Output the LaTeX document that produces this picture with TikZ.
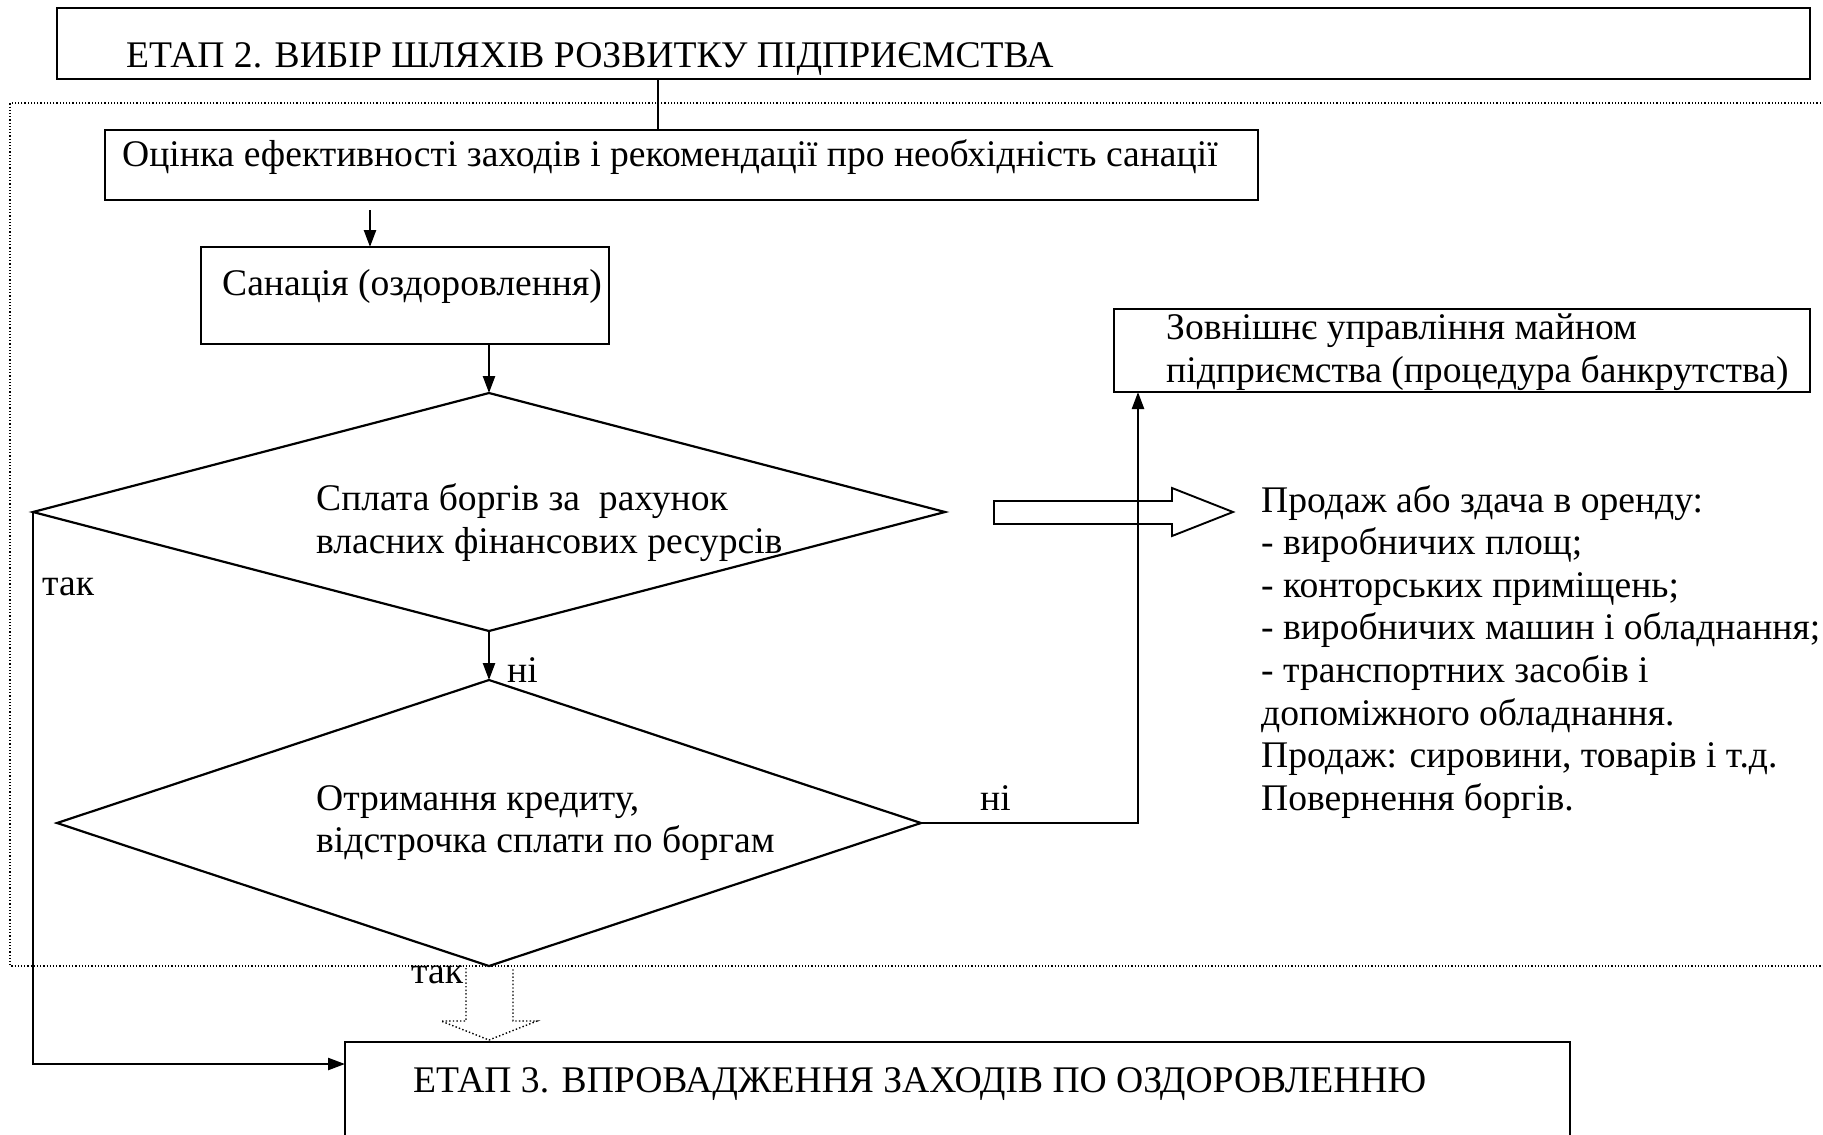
\documentclass[tikz,border=0pt]{standalone}
\usepackage{fontspec}
\setmainfont{Liberation Serif}
\usetikzlibrary{arrows.meta,shapes.geometric,calc}
\begin{document}
\begin{tikzpicture}[x=1pt,y=-1pt,
  box/.style={draw,line width=2.4pt,rectangle,inner sep=0pt,outer sep=0pt,anchor=north west},
  decision/.style={draw,line width=2.2pt,diamond,inner sep=0pt,outer sep=0pt},
  txt/.style={anchor=base west,inner sep=0pt,font=\fontsize{37.6}{44}\selectfont},
  conn/.style={line width=2.4pt},
  arr/.style={line width=2.4pt,-{Triangle[length=17pt,width=12pt]}},
  blk/.style={line width=1.9pt,line join=miter},
  dotblk/.style={line width=1.4pt,dash pattern=on 1.4pt off 2.2pt},
  frame/.style={line width=1.2pt,dash pattern=on 1.2pt off 2pt}]
\useasboundingbox (0,0) rectangle (1823,1135);
\clip (0,0) rectangle (1823,1135);

% dotted frame around stage 2
\draw[frame] (1840,103) -- (10,103) -- (10,966) -- (1840,966);

% boxes
\node[box,minimum width=1753pt,minimum height=71pt] (t2) at (57,8) {};
\node[box,minimum width=1153pt,minimum height=70pt] (ev) at (105,130) {};
\node[box,minimum width=408pt,minimum height=97pt] (san) at (201,247) {};
\node[box,minimum width=696pt,minimum height=83pt] (zv) at (1114,309) {};
\node[box,minimum width=1225pt,minimum height=140pt] (e3) at (345,1042) {};

% decisions
\node[decision,minimum width=912pt,minimum height=238pt] (q1) at (489,512) {};
\node[decision,minimum width=864pt,minimum height=286pt] (q2) at (489,823) {};

% texts
\node[txt] (t2t) at (126,67) {ЕТАП 2. ВИБІР ШЛЯХІВ РОЗВИТКУ ПІДПРИЄМСТВА};
\node[txt] (evt) at (122,166) {Оцінка ефективності заходів і рекомендації про необхідність санації};
\node[txt] (sant) at (222,295) {Санація (оздоровлення)};
\node[txt] (q1a) at (316,510) {Сплата боргів за~ рахунок};
\node[txt] (q1b) at (316,553) {власних фінансових ресурсів};
\node[txt] (q2a) at (316,810) {Отримання кредиту,};
\node[txt] (q2b) at (316,852) {відстрочка сплати по боргам};
\node[txt] (zva) at (1166,339) {Зовнішнє управління майном};
\node[txt] (zvb) at (1166,382) {підприємства (процедура банкрутства)};
\node[txt] (e3t) at (413,1092) {ЕТАП 3. ВПРОВАДЖЕННЯ ЗАХОДІВ ПО ОЗДОРОВЛЕННЮ};

\foreach \t [count=\i from 0] in {Продаж або здача в оренду:,
  - виробничих площ;,
  - конторських приміщень;,
  - виробничих машин і обладнання;,
  - транспортних засобів і,
  допоміжного обладнання.,
  Продаж: сировини{,} товарів і т.д.,
  Повернення боргів.}
  \node[txt] (l\i) at (1261,512+42.6*\i) {\t};

% branch labels
\node[txt] (yes1) at (42,595) {так};
\node[txt] (no1) at (507,682) {ні};
\node[txt] (no2) at (980,810) {ні};
\node[txt] (yes2) at (411,983) {так};

% connectors
\coordinate (xa) at (658,0);
\coordinate (xb) at (370,0);
\coordinate (xv) at (1138,0);
\draw[conn] (xa |- t2.south) -- (xa |- ev.north);
\draw[arr] ($(xb |- ev.south)+(0,10)$) -- (xb |- san.north);
\draw[arr] (q1.north |- san.south) -- (q1.north);
\draw[arr] (q1.south) -- (q2.north);
\coordinate (e3in) at ($(e3.north west)+(0,22)$);
\draw[arr] (q1.west) |- (e3in);
\draw[arr] (q2.east) -| (xv |- zv.south);

% hollow block arrows
\draw[blk] (994,501) -- (1172,501) -- (1172,488) -- (1233,512) -- (1172,536) -- (1172,524) -- (994,524) -- cycle;
\draw[dotblk] (466,968) -- (466,1021) -- (441,1021) -- (489,1040) -- (537,1021) -- (513,1021) -- (513,968);
\end{tikzpicture}
\end{document}
